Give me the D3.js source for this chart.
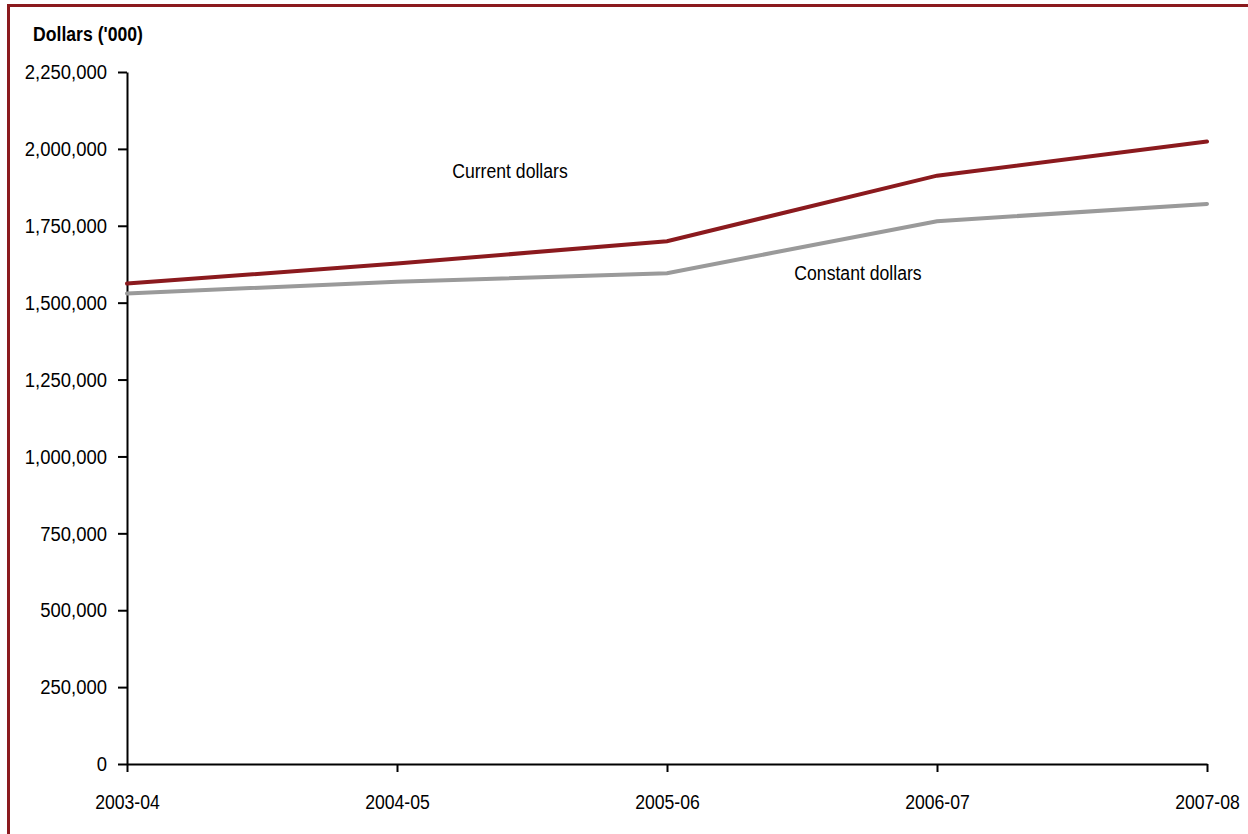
<!DOCTYPE html>
<html>
<head>
<meta charset="utf-8">
<script src="https://cdn.jsdelivr.net/npm/d3@7"></script>
<style>
  html, body { margin: 0; padding: 0; background: #fff; }
  svg { display: block; font-family: "Liberation Sans", Arial, sans-serif; }
</style>
</head>
<body>
<svg id="chart" width="1248" height="834"></svg>
<script>
const categories = ["2003-04", "2004-05", "2005-06", "2006-07", "2007-08"];
const currentDollars = [1562000, 1627000, 1700000, 1913000, 2024000];
const constantDollars = [1530000, 1568000, 1596000, 1765000, 1821000];
const yTicks = [0, 250000, 500000, 750000, 1000000, 1250000, 1500000, 1750000, 2000000, 2250000];
const yTitle = "Dollars ('000)";
const seriesLabels = ["Current dollars", "Constant dollars"];

const FONT = "'Liberation Sans', Arial, sans-serif";
const FS = 21;
const SX = 0.84;   // horizontal condensation (narrow face look)
const SXY = 0.88;

const svg = d3.select("#chart");
const margin = { left: 127, right: 41, top: 72, bottom: 70 };
const W = 1248, H = 834;

// frame
svg.append("path")
  .attr("d", `M8.5,${H} L8.5,5.5 L${W},5.5`)
  .attr("fill", "none")
  .attr("stroke", "#8B1A1E")
  .attr("stroke-width", 3);

const x = d3.scalePoint().domain(categories).range([margin.left, W - margin.right]);
const y = d3.scaleLinear().domain([0, 2250000]).range([H - margin.bottom, margin.top]);

const yAxis = svg.append("g")
  .attr("transform", `translate(${margin.left},0)`)
  .call(d3.axisLeft(y).tickValues(yTicks).tickFormat(d3.format(",")).tickSize(9).tickSizeOuter(0).tickPadding(11));
yAxis.select(".domain").attr("stroke", "#000").attr("stroke-width", 2);
yAxis.selectAll(".tick line").attr("stroke", "#000").attr("stroke-width", 2);
yAxis.selectAll("text").attr("font-size", FS).attr("fill", "#000").attr("font-family", FONT)
  .attr("x", -20 / SXY).attr("transform", `scale(${SXY},1)`);

const xAxis = svg.append("g")
  .attr("transform", `translate(0,${y(0)})`)
  .call(d3.axisBottom(x).tickSize(8).tickSizeOuter(0).tickPadding(22));
xAxis.select(".domain").attr("stroke", "#000").attr("stroke-width", 2);
xAxis.selectAll(".tick line").attr("stroke", "#000").attr("stroke-width", 2);
xAxis.selectAll("text").attr("font-size", FS).attr("fill", "#000").attr("font-family", FONT)
  .attr("transform", `scale(${SX},1)`);

const line = d3.line().x((d, i) => x(categories[i])).y(d => y(d));

svg.append("path").datum(constantDollars)
  .attr("d", line).attr("fill", "none")
  .attr("stroke", "#9A9A9A").attr("stroke-width", 4).attr("stroke-linecap", "round");
svg.append("path").datum(currentDollars)
  .attr("d", line).attr("fill", "none")
  .attr("stroke", "#8B1A1E").attr("stroke-width", 4).attr("stroke-linecap", "round");

function label(txt, X, Y, anchor, bold) {
  svg.append("text")
    .attr("x", X / SX).attr("y", Y)
    .attr("transform", `scale(${SX},1)`)
    .attr("text-anchor", anchor)
    .attr("font-size", FS).attr("font-family", FONT)
    .attr("font-weight", bold ? "bold" : "normal")
    .text(txt);
}
label(yTitle, 33, 41, "start", true);
label(seriesLabels[0], 510, 178, "middle", false);
label(seriesLabels[1], 858, 280, "middle", false);
</script>
</body>
</html>
